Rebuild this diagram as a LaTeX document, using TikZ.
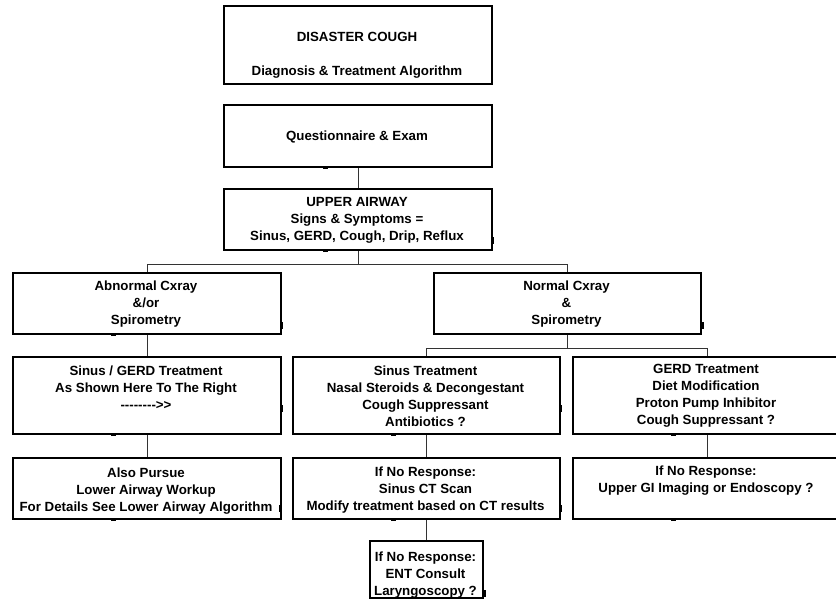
\documentclass[tikz,border=0pt]{standalone}
\usepackage{fontspec}
\setmainfont{Liberation Sans}
\tikzset{
  box/.style={draw=black, line width=2.4pt, fill=white, inner sep=0pt, anchor=north west},
  txt/.style={font=\fontsize{13.3}{17}\selectfont\bfseries, align=center, inner sep=0pt, yshift=-2pt},
  conn/.style={line width=1pt, draw=black!80},
  handle/.style={fill=black}
}
\newcommand{\hy}{\mbox{-}}
\newcommand{\gt}{\mbox{>}}
\begin{document}
\begin{tikzpicture}[x=1pt,y=-1pt]
\useasboundingbox (0,0) rectangle (836,602);
\clip (0,0) rectangle (836,602);
% boxes
\node[box, minimum width=268pt, minimum height=78pt] (title) at (223,5) {};
\node[box, minimum width=268pt, minimum height=62pt] (quest) at (223,104) {};
\node[box, minimum width=268pt, minimum height=61pt] (upper) at (223,188) {};
\node[box, minimum width=268pt, minimum height=61pt] (abn) at (12,272) {};
\node[box, minimum width=267pt, minimum height=61pt] (norm) at (433,272) {};
\node[box, minimum width=268pt, minimum height=77pt] (sg) at (12,356) {};
\node[box, minimum width=267pt, minimum height=77pt] (st) at (292,356) {};
\node[box, minimum width=268pt, minimum height=77pt] (gt) at (572,356) {};
\node[box, minimum width=268pt, minimum height=61pt] (ap) at (12,457) {};
\node[box, minimum width=267pt, minimum height=61pt] (nr1) at (292,457) {};
\node[box, minimum width=268pt, minimum height=61pt] (nr2) at (572,457) {};
\node[box, minimum width=113pt, minimum height=57pt] (ent) at (369,540) {};
% texts
\node[txt] (titletxt) at (357,53) {DISASTER COUGH\\[17pt]Diagnosis \& Treatment Algorithm};
\node[txt] (questtxt) at (357,135) {Questionnaire \& Exam};
\node[txt] (uppertxt) at (357,218) {UPPER AIRWAY\\Signs \& Symptoms =\\Sinus, GERD, Cough, Drip, Reflux};
\node[txt] (abntxt) at (146,302) {Abnormal Cxray\\\&/or\\Spirometry};
\node[txt] (normtxt) at (566.5,302) {Normal Cxray\\\&\\Spirometry};
\node[txt] (sgtxt) at (146,386) {Sinus / GERD Treatment\\As Shown Here To The Right\\\hy\hy\hy\hy\hy\hy\hy\hy\gt\gt};
\node[txt] (sttxt) at (425.5,394) {Sinus Treatment\\Nasal Steroids \& Decongestant\\Cough Suppressant\\Antibiotics ?};
\node[txt] (gttxt) at (706,394) {GERD Treatment\\Diet Modification\\Proton Pump Inhibitor\\Cough Suppressant ?};
\node[txt] (aptxt) at (146,489) {Also Pursue\\Lower Airway Workup\\For Details See Lower Airway Algorithm};
\node[txt] (nr1txt) at (425.5,488) {If No Response:\\Sinus CT Scan\\Modify treatment based on CT results};
\node[txt] (nr2txt) at (706,478.5) {If No Response:\\Upper GI Imaging or Endoscopy ?};
\node[txt] (enttxt) at (425.5,573) {If No Response:\\ENT Consult\\Laryngoscopy ?};
% connectors
\draw[conn] (quest.south) -- (upper.north);
\draw[conn] (upper.south) -- ++(0,13) coordinate (j1);
\draw[conn] (abn.north) |- (j1) -| (norm.north);
\draw[conn] (abn.south) -- (sg.north);
\draw[conn] (norm.south) -- ++(0,13) coordinate (j2);
\draw[conn] (st.north) |- (j2) -| (gt.north);
\draw[conn] (sg.south) -- (ap.north);
\draw[conn] (st.south) -- (nr1.north);
\draw[conn] (gt.south) -- (nr2.north);
\draw[conn] (nr1.south) -- (ent.north);
% small black handles
\foreach \x/\y in {325/166, 325/249, 113/333, 113/433, 393/433, 673/433, 113/518, 393/518, 673/518}
  \fill[handle] (\x-2.5,\y-0.5) rectangle (\x+2.5,\y+3);
\foreach \x/\y in {491/240, 280/325, 701/325, 280/408, 559/408, 279/508, 559/508, 483/593}
  \fill[handle] (\x-0.5,\y-3.5) rectangle (\x+3,\y+3.5);
\end{tikzpicture}
\end{document}
